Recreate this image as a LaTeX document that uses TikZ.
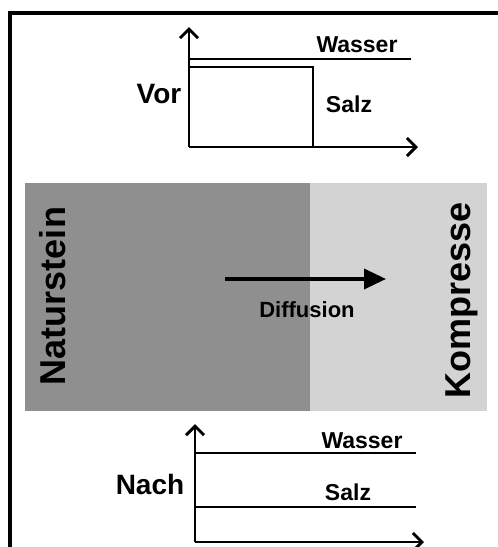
\documentclass[tikz,border=0pt]{standalone}
\usepackage{fontspec}
\setmainfont{Liberation Sans}
\usetikzlibrary{arrows.meta}
\definecolor{stone}{HTML}{8F8F8F}
\definecolor{poultice}{HTML}{D3D3D3}
\tikzset{
  lbl/.style={font=\bfseries\fontsize{#1}{#1}\selectfont, inner sep=0pt, anchor=base},
  curve/.style={line width=2.5pt},
  axis/.style={line width=2.5pt, -{Straight Barb[length=9pt,width=18pt,line width=3pt]}},
  frame/.style={line width=4pt}
}
\begin{document}
\begin{tikzpicture}[x=1pt,y=-1pt]
\useasboundingbox (0,0) rectangle (498,547);
% outer frame: left and top edges
\draw[frame] (9.5,547) -- (9.5,13) -- (498,13);

% stone and poultice blocks
\fill[stone] (25,183) rectangle (310,411);
\fill[poultice] (310,183) rectangle (487,411);
\node[lbl=36, rotate=90] (stone) at (65,296) {Naturstein};
\node[lbl=36, rotate=90] (poultice) at (470,300) {Kompresse};
\coordinate (dstart) at (225,279);
\coordinate (dend) at (386,279);
\draw[line width=3.5pt, -{Triangle[length=22pt,width=20pt]}] (dstart) -- (dend);
\node[lbl=22] (diff) at (307,317) {Diffusion};

% profile before
\coordinate (o1) at (189,147);
\coordinate (y1) at (189,27);
\coordinate (x1) at (418,147);
\draw[axis] (o1) -- (y1);
\draw[axis] (o1) -- (x1);
\coordinate (w1a) at (189,59);
\coordinate (w1b) at (411,59);
\draw[curve] (w1a) -- (w1b);
\coordinate (s1a) at (189,67);
\coordinate (s1b) at (313,67);
\coordinate (s1c) at (313,147);
\draw[curve] (s1a) -- (s1b) -- (s1c);
\node[lbl=23] (wvor) at (357,52) {Wasser};
\node[lbl=23] (svor) at (349,112) {Salz};
\node[lbl=28] (vor) at (159,103) {Vor};

% profile after
\coordinate (o2) at (195,542);
\coordinate (y2) at (195,424);
\coordinate (x2) at (424,542);
\draw[axis] (o2) -- (y2);
\draw[axis] (o2) -- (x2);
\coordinate (w2a) at (195,453);
\coordinate (w2b) at (416,453);
\draw[curve] (w2a) -- (w2b);
\coordinate (s2a) at (195,507);
\coordinate (s2b) at (416,507);
\draw[curve] (s2a) -- (s2b);
\node[lbl=23] (wnach) at (362,448) {Wasser};
\node[lbl=23] (snach) at (348,500) {Salz};
\node[lbl=28] (nach) at (150,494) {Nach};
\end{tikzpicture}
\end{document}
